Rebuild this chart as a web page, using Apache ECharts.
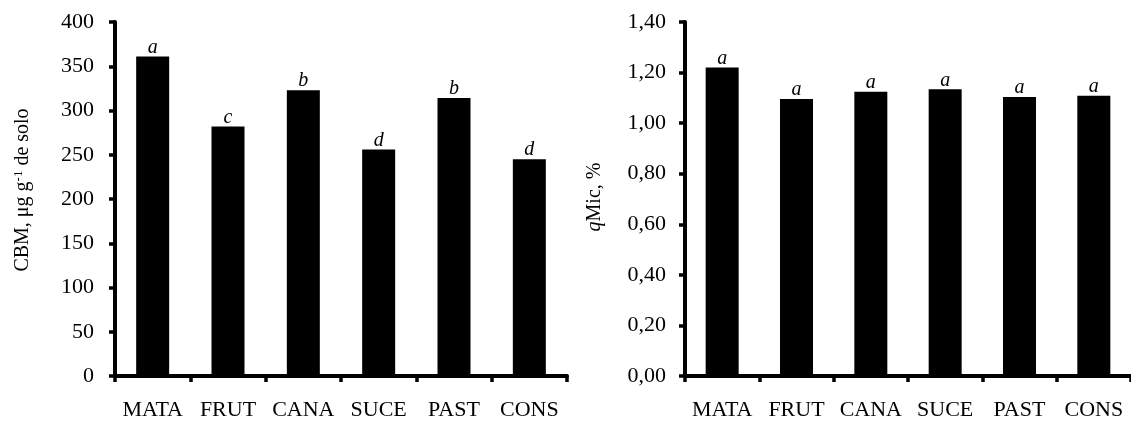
<!DOCTYPE html>
<html>
<head>
<meta charset="utf-8">
<script src="https://cdn.jsdelivr.net/npm/echarts@6/dist/echarts.min.js"></script>
<style>
html,body{margin:0;padding:0;background:#fff;}
#c{width:1131px;height:421px;}
</style>
</head>
<body>
<div id="c"></div>
<script>
var categories = ['MATA', 'FRUT', 'CANA', 'SUCE', 'PAST', 'CONS'];
var cbmValues = [361, 282, 323, 256, 314, 245];
var cbmLetters = ['a', 'c', 'b', 'd', 'b', 'd'];
var qmicValues = [1.22, 1.095, 1.124, 1.134, 1.103, 1.108];
var qmicLetters = ['a', 'a', 'a', 'a', 'a', 'a'];
var cbmTicks = {min: 0, max: 400, interval: 50};
var qmicTicks = {min: 0, max: 1.4, interval: 0.2};

var FONT = '"Liberation Serif", "Times New Roman", serif';
var chart = echarts.init(document.getElementById('c'), null, {renderer: 'canvas'});

var baseRich = {
  n: {fontFamily: FONT, fontSize: 20, color: '#000'},
  sup: {fontFamily: FONT, fontSize: 13, color: '#000', verticalAlign: 'top', padding: [0, 0, 8, 0]},
  i: {fontFamily: FONT, fontSize: 20, color: '#000', fontStyle: 'italic'}
};

function xAxis(gi) {
  return {
    type: 'category', gridIndex: gi, data: categories,
    axisLine: {lineStyle: {color: '#000', width: 4}},
    axisTick: {show: true, interval: 0, length: 6, lineStyle: {color: '#000', width: 3.5}},
    axisLabel: {color: '#000', fontFamily: FONT, fontSize: 22, margin: 23, interval: 0, hideOverlap: false}
  };
}
function yAxis(gi, t, fmt, name, gap, pad, lblMargin) {
  return {
    type: 'value', gridIndex: gi, min: t.min, max: t.max, interval: t.interval,
    splitLine: {show: false},
    axisLine: {show: true, lineStyle: {color: '#000', width: 4}},
    axisTick: {show: true, length: 6, lineStyle: {color: '#000', width: 3.5}},
    axisLabel: {color: '#000', fontFamily: FONT, fontSize: 22, margin: lblMargin, formatter: fmt},
    name: name, nameLocation: 'middle', nameGap: gap, nameRotate: 90,
    nameTextStyle: {color: '#000', fontFamily: FONT, fontSize: 20, padding: [0, 0, 0, pad], rich: baseRich}
  };
}
function barSeries(gi, vals, letters) {
  return {
    type: 'bar', xAxisIndex: gi, yAxisIndex: gi, data: vals, barWidth: 33,
    itemStyle: {color: '#000'},
    label: {
      show: true, position: 'top', distance: -1, color: '#000',
      fontFamily: FONT, fontSize: 20, fontStyle: 'italic',
      formatter: function (p) { return letters[p.dataIndex]; }
    }
  };
}

chart.setOption({
  animation: false,
  grid: [
    {left: 115, width: 452, top: 22, bottom: 43.3},
    {left: 685, width: 452, top: 22, bottom: 43.3}
  ],
  xAxis: [xAxis(0), xAxis(1)],
  yAxis: [
    yAxis(0, cbmTicks, function (v) { return String(v); },
      '{n|CBM, μg g}{sup|-1}{n| de solo}', 82, 18, 21),
    yAxis(1, qmicTicks, function (v) { return v.toFixed(2).replace('.', ','); },
      '{i|q}{n|Mic, %}', 80, 4, 19)
  ],
  series: [barSeries(0, cbmValues, cbmLetters), barSeries(1, qmicValues, qmicLetters)]
});
</script>
</body>
</html>
